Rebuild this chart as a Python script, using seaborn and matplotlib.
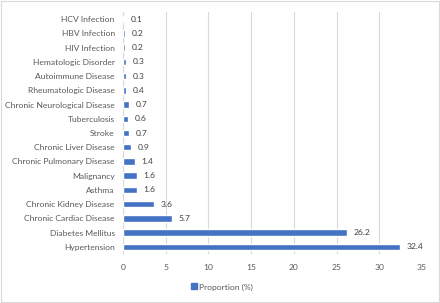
import matplotlib
matplotlib.use("Agg")
import matplotlib.pyplot as plt
import seaborn as sns
import pandas as pd
from matplotlib.patches import Patch, Rectangle

categories = ["HCV Infection", "HBV Infection", "HIV Infection", "Hematologic Disorder",
              "Autoimmune Disease", "Rheumatologic Disease", "Chronic Neurological Disease",
              "Tuberculosis", "Stroke", "Chronic Liver Disease", "Chronic Pulmonary Disease",
              "Malignancy", "Asthma", "Chronic Kidney Disease", "Chronic Cardiac Disease",
              "Diabetes Mellitus", "Hypertension"]
values = [0.1, 0.2, 0.2, 0.3, 0.3, 0.4, 0.7, 0.6, 0.7, 0.9, 1.4, 1.6, 1.6, 3.6, 5.7, 26.2, 32.4]
xticks = [0, 5, 10, 15, 20, 25, 30, 35]
series_name = "Proportion (%)"

df = pd.DataFrame({"cat": categories, "val": values})

sns.set_theme(style="white")
plt.rcParams["font.family"] = ["Lato", "DejaVu Sans"]

fig = plt.figure(figsize=(4.4, 3.03), dpi=100)
ax = fig.add_axes([0.2795, 0.162, 0.959 - 0.2795, 0.798])

blue = "#4472C4"
sns.barplot(data=df, y="cat", x="val", orient="h", color=blue, width=0.45,
            saturation=1, ax=ax, zorder=3)

ax.set_xlim(0, 35)
ax.set_xticks(xticks)
ax.set_xticklabels([str(t) for t in xticks])
ax.set_xlabel("")
ax.set_ylabel("")
for s in ["top", "right", "bottom"]:
    ax.spines[s].set_visible(False)
ax.spines["left"].set_color("#d9d9d9")
ax.spines["left"].set_linewidth(0.8)
ax.grid(axis="x", color="#d9d9d9", linewidth=0.8, zorder=0)
ax.set_axisbelow(True)
ax.tick_params(axis="both", length=0, labelsize=6.1, colors="#595959", pad=6)
ax.tick_params(axis="x", pad=7)

for i, v in enumerate(values):
    ax.text(v + 0.8, i, f"{v:.1f}", va="center", ha="left", fontsize=6.1, color="#404040")

fig.legend(handles=[Patch(color=blue, label=series_name)], loc="center",
           bbox_to_anchor=(0.505, 0.053), frameon=False, fontsize=6.1,
           handlelength=0.7, handleheight=0.7, handletextpad=0.3, labelcolor="#595959")

fig.patches.append(Rectangle((0.002, 0.003), 0.996, 0.994, transform=fig.transFigure,
                             fill=False, edgecolor="#d9d9d9", linewidth=0.8))

fig.savefig("out.png", dpi=100)
